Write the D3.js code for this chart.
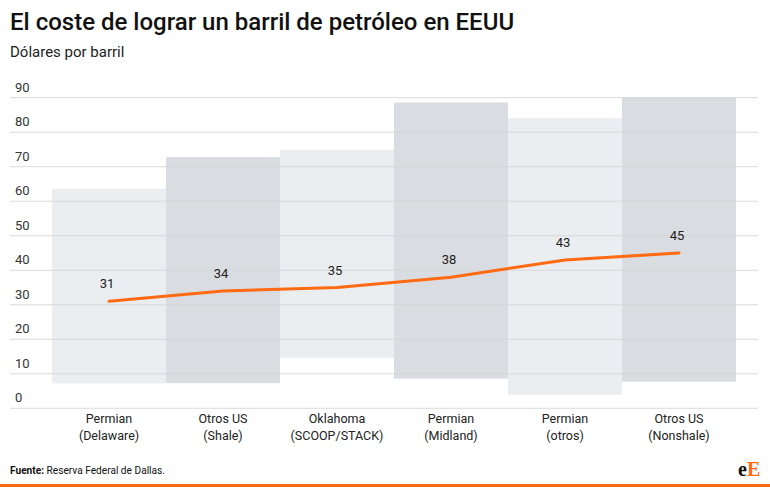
<!DOCTYPE html>
<html><head><meta charset="utf-8">
<script src="https://cdn.jsdelivr.net/npm/d3@7"></script>
<style>body{margin:0;background:#fff;}svg{display:block;font-family:Roboto,"Noto Sans",sans-serif;}</style>
</head><body>
<svg id="c" width="770" height="500"></svg>
<script>
const categories = [["Permian","(Delaware)"],["Otros US","(Shale)"],["Oklahoma","(SCOOP/STACK)"],["Permian","(Midland)"],["Permian","(otros)"],["Otros US","(Nonshale)"]];
const rangeLow  = [7.2, 7.3, 14.6, 8.6, 3.9, 7.7];
const rangeHigh = [63.6, 72.8, 74.9, 88.6, 84.1, 90.1];
const breakeven = [31, 34, 35, 38, 43, 45];
const yTicks = [0,10,20,30,40,50,60,70,80,90];

const svg = d3.select("#c");
const x = d3.scaleBand().domain(d3.range(categories.length)).range([52, 736]).padding(0);
const y = d3.scaleLinear().domain([0, 90]).range([408.3, 97.7]);
const barColors = ["#ebeef1","#d9dde1"];

// title
svg.append("text").attr("x",10).attr("y",30).attr("font-size",24).attr("font-weight",500).attr("fill","#111").text("El coste de lograr un barril de petróleo en EEUU");
svg.append("text").attr("x",10).attr("y",57).attr("font-size",15).attr("fill","#222").text("Dólares por barril");

// bars
svg.append("g").selectAll("rect").data(categories).join("rect")
  .attr("x",(d,i)=>x(i)).attr("width",x.bandwidth())
  .attr("y",(d,i)=>y(rangeHigh[i])).attr("height",(d,i)=>y(rangeLow[i])-y(rangeHigh[i]))
  .attr("fill",(d,i)=>barColors[i%2]);

// grid
const g = svg.append("g");
g.selectAll("line").data(yTicks).join("line")
  .attr("x1",10).attr("x2",758).attr("y1",d=>y(d)).attr("y2",d=>y(d))
  .attr("stroke","#d4d4d4").attr("stroke-opacity",0.85).attr("stroke-width",1);
g.selectAll("text").data(yTicks).join("text")
  .attr("x",15).attr("y",d=>y(d)-6).attr("font-size",13).attr("fill","#333").text(d=>d);

// line
const cx = i => x(i)+x.bandwidth()/2;
svg.append("path").datum(breakeven)
  .attr("d", d3.line().x((d,i)=>cx(i)).y(d=>y(d)).curve(d3.curveLinear))
  .attr("fill","none").attr("stroke","#ff6a13").attr("stroke-width",3)
  .attr("stroke-linecap","round").attr("stroke-linejoin","round");

svg.append("g").selectAll("text").data(breakeven).join("text")
  .attr("x",(d,i)=>cx(i)-2).attr("y",d=>y(d)-13).attr("text-anchor","middle")
  .attr("font-size",13).attr("fill","#222").text(d=>d);

// x labels
const xl = svg.append("g").selectAll("text").data(categories).join("text")
  .attr("text-anchor","middle").attr("font-size",12.5).attr("fill","#222");
xl.append("tspan").attr("x",(d,i)=>cx(i)).attr("y",423).text(d=>d[0]);
xl.append("tspan").attr("x",(d,i)=>cx(i)).attr("y",440).text(d=>d[1]);

// footer
const f = svg.append("text").attr("x",10).attr("y",474).attr("font-size",11).attr("fill","#111")
  .attr("textLength",155).attr("lengthAdjust","spacingAndGlyphs");
f.append("tspan").attr("font-weight",700).text("Fuente:");
f.append("tspan").text(" Reserva Federal de Dallas.");
const logo = svg.append("text").attr("x",738).attr("y",476).attr("font-size",20).attr("font-weight",700).attr("font-family","'Liberation Serif','DejaVu Serif',serif");
logo.append("tspan").attr("fill","#111").text("e");
logo.append("tspan").attr("fill","#ff6a13").text("E");
svg.append("rect").attr("x",0).attr("y",484).attr("width",770).attr("height",3).attr("fill","#ff6a13");
</script>
</body></html>
